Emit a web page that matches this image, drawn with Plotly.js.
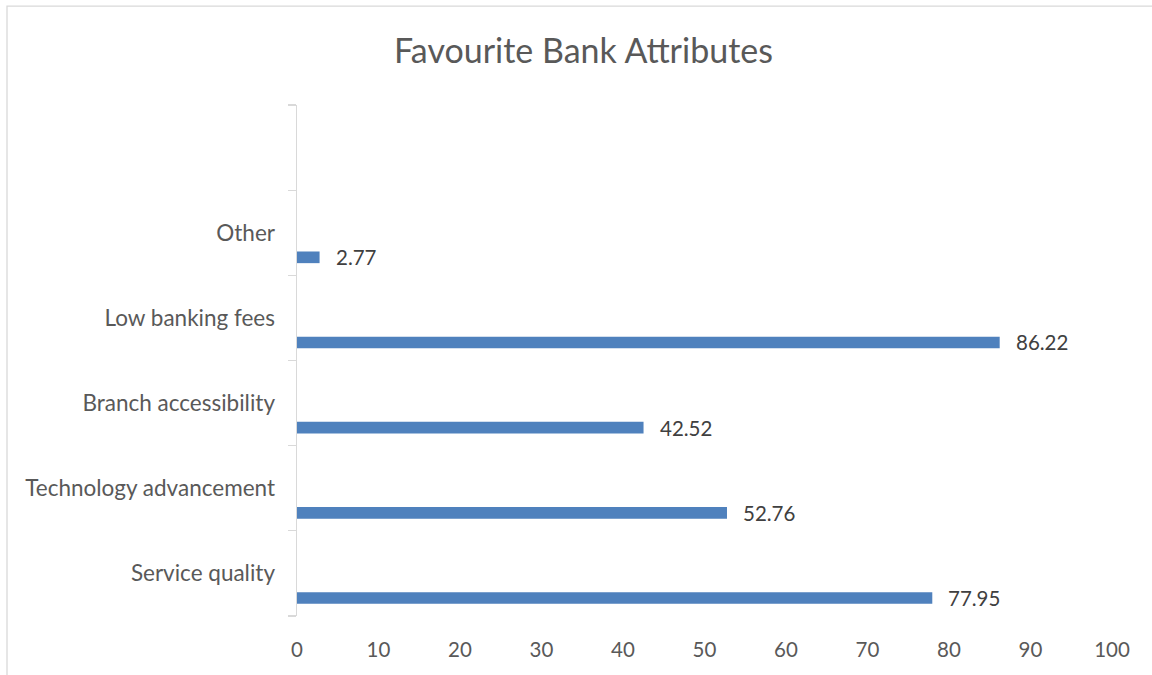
<!DOCTYPE html>
<html>
<head>
<meta charset="utf-8">
<script src="https://cdn.plot.ly/plotly-3.0.1.min.js"></script>
<style>html,body{margin:0;padding:0;background:#fff;}#chart{width:1152px;height:675px;}</style>
</head>
<body>
<div id="chart"></div>
<script>
// Data (bottom to top)
const categories = ["Service quality", "Technology advancement", "Branch accessibility", "Low banking fees", "Other"];
const values = [77.95, 52.76, 42.52, 86.22, 2.77];
const xTicks = [0, 10, 20, 30, 40, 50, 60, 70, 80, 90, 100];
const chartTitle = "Favourite Bank Attributes";

const FONT = "Lato, 'Open Sans', sans-serif";
const positions = categories.map((c, i) => i);
const nBands = categories.length + 1; // one empty band on top
const barOffset = -0.357, barWidth = 0.137;

const trace = {
  type: "bar",
  orientation: "h",
  x: values,
  y: positions,
  offset: barOffset,
  width: barWidth,
  marker: { color: "#4F81BD" },
  hoverinfo: "x",
  yaxis: "y"
};

const labelAnnotations = values.map((v, i) => ({
  x: v, y: i + barOffset + barWidth / 2,
  xref: "x", yref: "y",
  text: v.toFixed(2),
  showarrow: false,
  xanchor: "left", yanchor: "middle",
  xshift: 14,
  font: { family: FONT, size: 20.5, color: "#404040" }
}));

const bounds = [];
for (let i = 0; i <= nBands; i++) bounds.push(i - 0.5);

const layout = {
  width: 1152, height: 675,
  margin: { l: 297, r: 40, t: 105, b: 59, pad: 0 },
  paper_bgcolor: "#ffffff", plot_bgcolor: "#ffffff",
  showlegend: false,
  title: {
    text: chartTitle,
    font: { family: FONT, size: 34, color: "#595959" },
    x: 0.5065, xref: "container", xanchor: "center",
    y: 1 - 51 / 675, yref: "container", yanchor: "middle"
  },
  xaxis: {
    range: [0, 100],
    tickvals: xTicks,
    ticktext: xTicks.map(String),
    showgrid: false, zeroline: false, showline: false,
    ticks: "", ticklabelstandoff: 19,
    tickfont: { family: FONT, size: 20.5, color: "#595959" },
    fixedrange: true
  },
  yaxis: {
    range: [-0.5, nBands - 0.5],
    tickvals: bounds,
    ticktext: bounds.map(() => ""),
    showticklabels: false,
    ticks: "outside", ticklen: 8, tickwidth: 1.3, tickcolor: "#d9d9d9",
    showline: true, linecolor: "#d9d9d9", linewidth: 1.3,
    showgrid: false, zeroline: false,
    fixedrange: true
  },
  yaxis2: {
    overlaying: "y",
    side: "left",
    range: [-0.5, nBands - 0.5],
    tickvals: positions,
    ticktext: categories,
    ticks: "", showline: false, showgrid: false, zeroline: false,
    ticklabelstandoff: 21,
    tickfont: { family: FONT, size: 22.5, color: "#595959" },
    fixedrange: true
  },
  annotations: labelAnnotations,
  shapes: [{
    type: "rect", xref: "paper", yref: "paper",
    x0: (7 - 297) / 815, x1: (1165 - 297) / 815,
    y0: (616.3 - 690) / 511.3, y1: 1 + (105 - 6) / 511.3,
    line: { color: "#d9d9d9", width: 1.3 }, fillcolor: "rgba(0,0,0,0)", layer: "below"
  }]
};

// invisible trace on yaxis2 so its tick labels render
const labelTrace = { type: "scatter", x: [null], y: [null], yaxis: "y2", hoverinfo: "skip", showlegend: false };

Plotly.newPlot("chart", [trace, labelTrace], layout, { displayModeBar: false, staticPlot: true });
</script>
</body>
</html>
